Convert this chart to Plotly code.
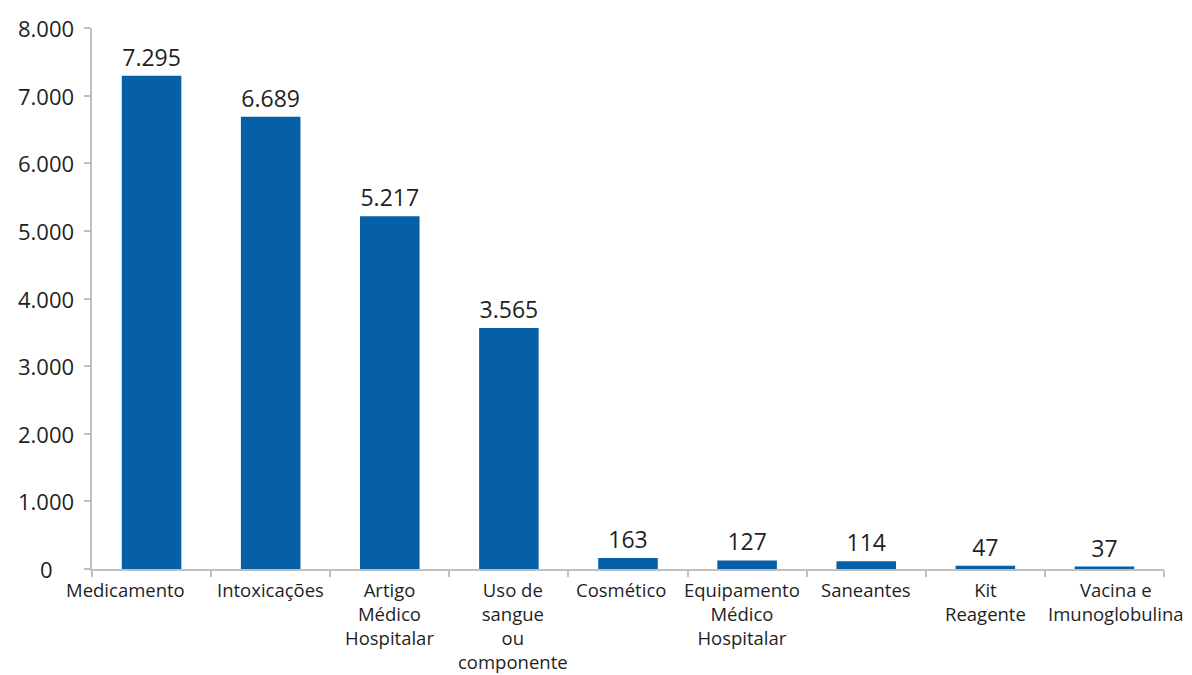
import plotly.graph_objects as go

categorias = [
    "Medicamento",
    "Intoxicações",
    "Artigo<br>Médico<br>Hospitalar",
    "Uso de<br>sangue<br>ou<br>componente",
    "Cosmético",
    "Equipamento<br>Médico<br>Hospitalar",
    "Saneantes",
    "Kit<br>Reagente",
    "Vacina e<br>Imunoglobulina",
]
notificacoes = [7295, 6689, 5217, 3565, 163, 127, 114, 47, 37]
y_ticks = [0, 1000, 2000, 3000, 4000, 5000, 6000, 7000, 8000]

FONT = "Open Sans, Noto Sans, sans-serif"
AXIS_GREY = "#BFBFBF"
TEXT = "#1f1f1f"

# horizontal nudges (px) for category labels that sit off-centre under their bars
label_nudge = {
    "Medicamento": -26,
    "Cosmético": -7,
    "Equipamento<br>Médico<br>Hospitalar": -5,
    "Uso de<br>sangue<br>ou<br>componente": 4,
    "Vacina e<br>Imunoglobulina": 12,
}


def fmt_milhar(v):
    return f"{v:,}".replace(",", ".")


fig = go.Figure(
    go.Bar(
        x=categorias,
        y=notificacoes,
        width=0.5,
        marker=dict(color="#0660A8", line=dict(width=0)),
        texttemplate="%{y:,d}",
        textposition="outside",
        cliponaxis=False,
        textfont=dict(family=FONT, size=23, color=TEXT),
    )
)

# category labels below the axis
for cat in categorias:
    fig.add_annotation(
        x=cat,
        xref="x",
        y=0,
        yref="paper",
        yanchor="top",
        xanchor="center",
        yshift=-6,
        xshift=label_nudge.get(cat, 0),
        text=cat,
        showarrow=False,
        align="center",
        font=dict(family=FONT, size=18.5, color=TEXT),
    )

# value labels on the y axis, centred in the left margin
for v in y_ticks:
    fig.add_annotation(
        x=0,
        xref="paper",
        y=v,
        yref="y",
        xanchor="center",
        yanchor="middle",
        xshift=-46,
        text=fmt_milhar(v),
        showarrow=False,
        font=dict(family=FONT, size=22, color=TEXT),
    )

fig.update_layout(
    width=1192,
    height=675,
    margin=dict(l=92, r=28, t=28, b=106),
    paper_bgcolor="white",
    plot_bgcolor="white",
    separators=",.",
    showlegend=False,
    font=dict(family=FONT, color=TEXT),
)

fig.update_yaxes(
    range=[0, 8000],
    tickvals=y_ticks,
    showticklabels=False,
    automargin=False,
    showgrid=False,
    zeroline=False,
    showline=True,
    linecolor=AXIS_GREY,
    linewidth=2,
    ticks="outside",
    ticklen=6,
    tickcolor=AXIS_GREY,
    tickwidth=2,
)

fig.update_xaxes(
    range=[-0.5, len(categorias) - 0.5],
    automargin=False,
    showticklabels=False,
    showgrid=False,
    showline=True,
    linecolor=AXIS_GREY,
    linewidth=2,
    ticks="outside",
    tickson="boundaries",
    ticklen=6,
    tickcolor=AXIS_GREY,
    tickwidth=2,
)

fig.write_html("out.html")
